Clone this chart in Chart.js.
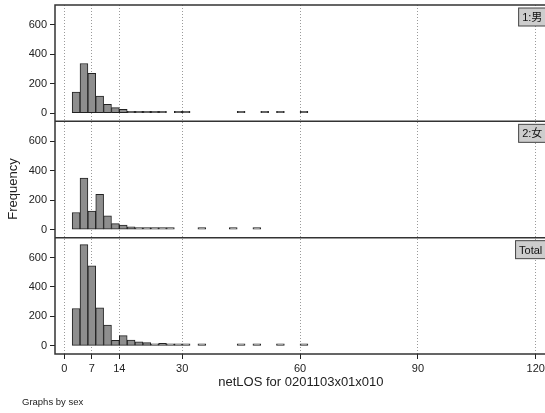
<!DOCTYPE html>
<html><head><meta charset="utf-8">
<script src="https://cdn.jsdelivr.net/npm/chart.js@4/dist/chart.umd.min.js"></script>
<style>
html,body{margin:0;padding:0;background:#fff;overflow:hidden;width:545px;height:413px}
canvas{display:block}
</style></head>
<body><canvas id="c" width="548" height="413" style="width:548px;height:413px"></canvas>
<script>
// bins of width 2 (start values)
const binStarts = [2,4,6,8,10,12,14,16,18,20,22,24,26,28,30,32,34,36,38,40,42,44,46,48,50,52,54,56,58,60,62];
const male   = [143,338,271,116,60,38,27,13,11,4, 9,8,0,3,3,0,0,0,0,0, 0,3,0,0,3,0,3,0,0,3, 0];
const female = [116,349,126,240,93,40,30,19,12,12, 9,7,5,0,0,0,3,0,0,0, 3,0,0,3,0,0,0,0,0,0, 0];
const total  = [254,688,544,258,142,38,70,40,27,22, 9,18,9,4,4,0,3,0,0,0, 0,3,0,3,0,0,3,0,0,3, 0];
const panelLabels = ['1:男', '2:女', 'Total'];
const xTicks = [0, 7, 14, 30, 60, 90, 120];
const yTicks = [0, 200, 400, 600];
const xTitle = 'netLOS for 0201103x01x010';
const yTitle = 'Frequency';
const note = 'Graphs by sex';

const FONT = '"Liberation Sans", "Noto Sans CJK JP", Arial, sans-serif';
const binWidth = 2;
const toPoints = arr => binStarts.map((s, i) => ({x: s + binWidth / 2, y: arr[i]})).filter(d => d.y > 0);

const barStyle = {
  backgroundColor: '#8e8e8e',
  borderColor: '#222',
  borderWidth: 1,
  borderSkipped: false,
  barPercentage: 1,
  categoryPercentage: 1,
  minBarLength: 2,
  grouped: false
};

function yScale(weight) {
  return {
    type: 'linear', position: 'left', stack: 'panels', stackWeight: 1, weight: weight,
    min: -55, max: 735,
    afterFit: s => { s.width = 55; s.paddingTop = 0; s.paddingBottom = 0; },
    afterBuildTicks: s => { s.ticks = yTicks.map(v => ({value: v})); },
    grid: {drawOnChartArea: false, drawTicks: true, tickLength: 5, tickColor: '#222', tickWidth: 1},
    border: {display: false},
    ticks: {color: '#222', padding: 3, font: {family: FONT, size: 11}}
  };
}

const framePlugin = {
  id: 'frame',
  afterDraw(chart) {
    const {ctx, chartArea: a, scales} = chart;
    ctx.save();
    ctx.strokeStyle = '#333';
    ctx.lineWidth = 1.5;
    ctx.strokeRect(a.left, a.top, a.right - a.left, a.bottom - a.top);
    ['yM', 'yF'].forEach(id => {
      const s = scales[id];
      ctx.beginPath(); ctx.moveTo(a.left, s.bottom); ctx.lineTo(a.right, s.bottom); ctx.stroke();
    });
    ctx.font = '11px ' + FONT;
    ['yM', 'yF', 'yT'].forEach((id, i) => {
      const s = scales[id];
      const text = panelLabels[i];
      const w = ctx.measureText(text).width + 7, h = 18;
      const x = a.right - w - 1, y = s.top + 3;
      ctx.fillStyle = '#cdcdcd'; ctx.fillRect(x, y, w, h);
      ctx.lineWidth = 1; ctx.strokeStyle = '#444'; ctx.strokeRect(x, y, w, h);
      ctx.fillStyle = '#111'; ctx.textBaseline = 'middle'; ctx.textAlign = 'left';
      ctx.fillText(text, x + 3.5, y + h / 2 + 1);
    });
    ctx.save();
    ctx.translate(13, 189);
    ctx.rotate(-Math.PI / 2);
    ctx.font = '13px ' + FONT;
    ctx.fillStyle = '#222'; ctx.textAlign = 'center'; ctx.textBaseline = 'middle';
    ctx.fillText(yTitle, 0, 0);
    ctx.restore();
    ctx.font = '9.5px ' + FONT;
    ctx.fillStyle = '#222'; ctx.textAlign = 'left'; ctx.textBaseline = 'middle';
    ctx.fillText(note, 22, 402);
    ctx.restore();
  }
};

new Chart(document.getElementById('c'), {
  type: 'bar',
  data: {
    datasets: [
      Object.assign({label: panelLabels[0], data: toPoints(male), yAxisID: 'yM', xAxisID: 'x'}, barStyle),
      Object.assign({label: panelLabels[1], data: toPoints(female), yAxisID: 'yF', xAxisID: 'x'}, barStyle),
      Object.assign({label: panelLabels[2], data: toPoints(total), yAxisID: 'yT', xAxisID: 'x'}, barStyle)
    ]
  },
  options: {
    responsive: false,
    animation: false,
    devicePixelRatio: 1,
    layout: {padding: {left: 0, right: 1, top: 5, bottom: 19}},
    plugins: {legend: {display: false}, tooltip: {enabled: false}},
    scales: {
      x: {
        type: 'linear', position: 'bottom', min: -2.37, max: 122.8, offset: false,
        afterBuildTicks: s => { s.ticks = xTicks.map(v => ({value: v})); },
        afterFit: s => { s.height = 40; },
        grid: {display: true, offset: false, drawOnChartArea: true, drawTicks: true, tickLength: 5,
               color: '#9a9a9a', lineWidth: 1, tickColor: '#222', tickBorderDash: []},
        border: {display: false, dash: [1, 2]},
        ticks: {color: '#222', padding: 3, maxRotation: 0, autoSkip: false, font: {family: FONT, size: 11}},
        title: {display: true, text: xTitle, color: '#222', padding: {top: 0, bottom: 4}, font: {family: FONT, size: 13}}
      },
      yM: yScale(3),
      yF: yScale(2),
      yT: yScale(1)
    }
  },
  plugins: [framePlugin]
});
</script>
</body></html>
